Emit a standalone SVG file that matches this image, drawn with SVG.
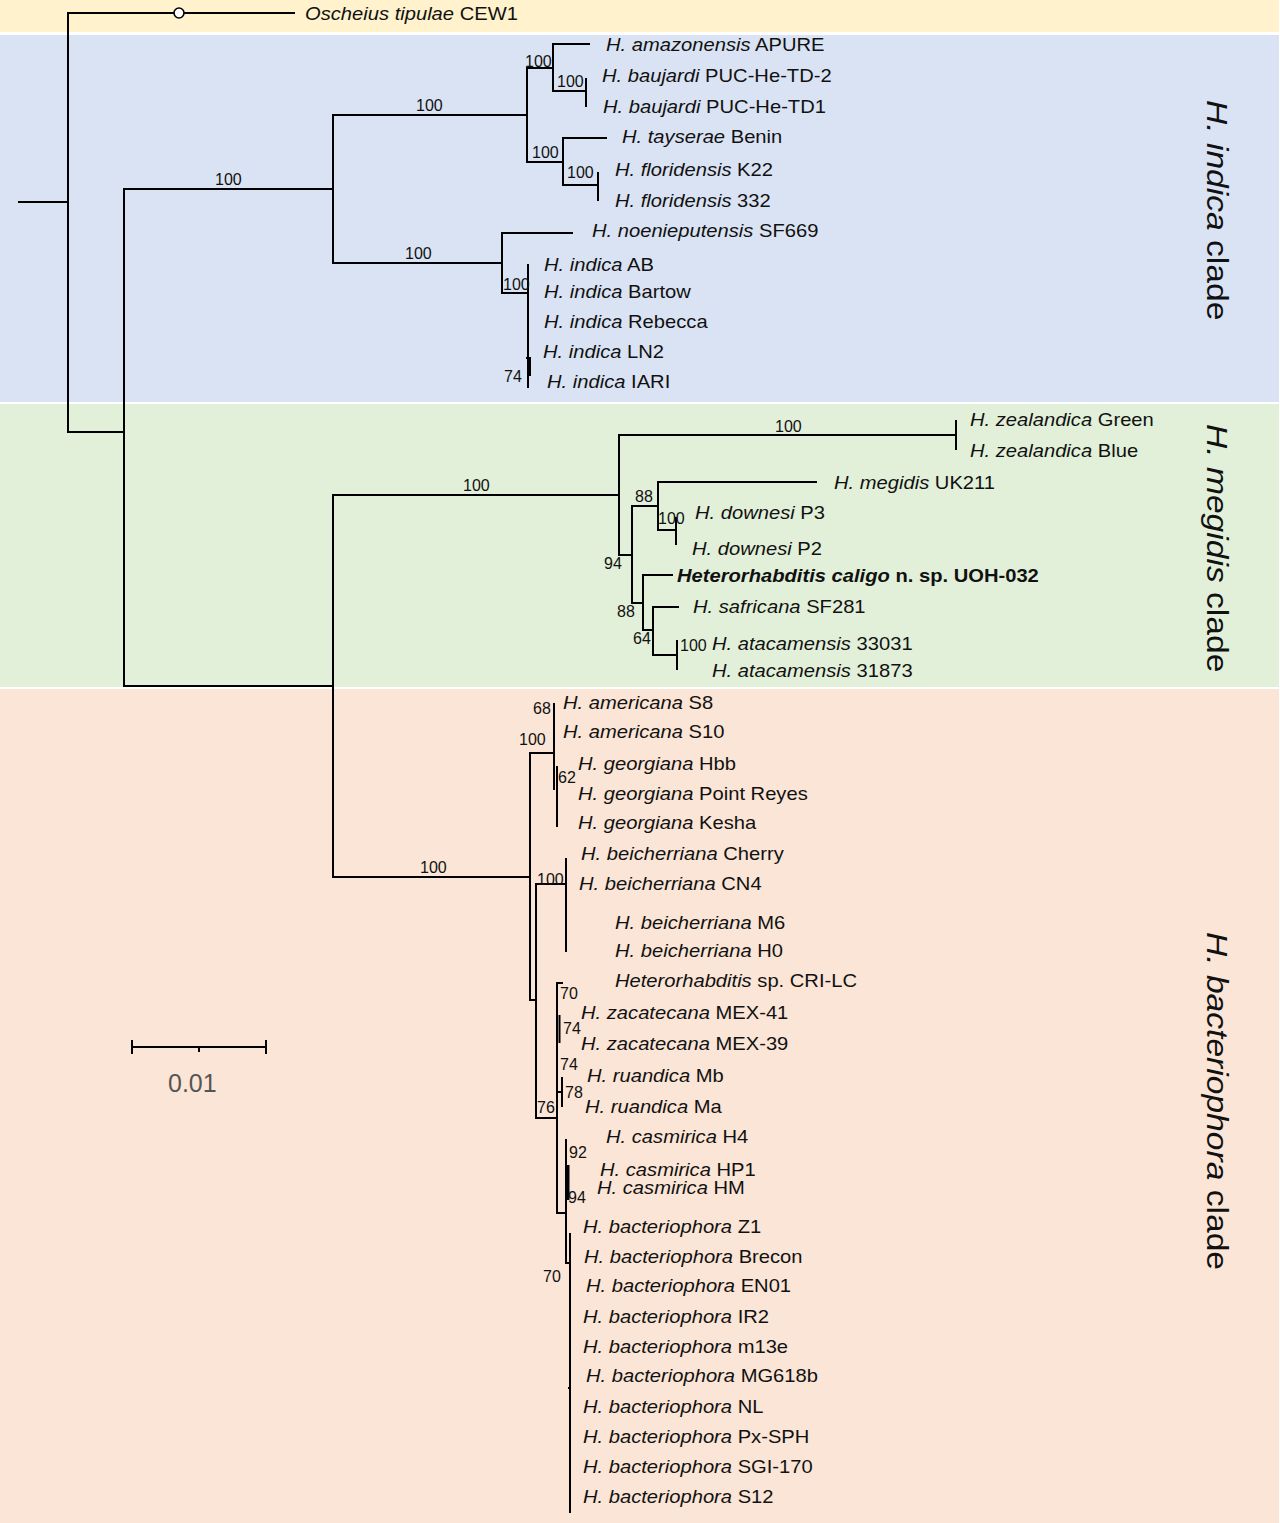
<svg xmlns="http://www.w3.org/2000/svg" width="1280" height="1523" viewBox="0 0 1280 1523">
<style>
text{font-family:"Liberation Sans",Arial,sans-serif;fill:#111}
.t{font-size:18px}
.i{font-style:italic}
.b{font-size:16px}
.c{font-size:30px}
.br{fill:none;stroke:#000;stroke-width:2}
</style>
<rect width="1280" height="1523" fill="#fff"/>
<g id="bands">
<rect x="0" y="0" width="1279" height="32" fill="#FFF2CC"/>
<rect x="0" y="35" width="1279" height="367" fill="#DAE3F3"/>
<rect x="0" y="404" width="1279" height="283" fill="#E2F0D9"/>
<rect x="0" y="689" width="1279" height="834" fill="#FBE5D6"/>
</g>
<g id="connectors" class="br">
<path d="M18 202 H68"/>
<path d="M295 13 H68 V432 H124"/>
<path d="M333 189 H124 V686 H333"/>
<path d="M527 115 H333 V263 H502"/>
<path d="M553 68 H527 V162 H563"/>
<path d="M590 44 H553 V91 H586"/>
<path d="M586 78 V107"/>
<path d="M607 138 H563 V185 H598"/>
<path d="M598 172 V201"/>
<path d="M573 233 H502 V293 H528"/>
<path d="M528 264 V388"/>
<path d="M526 358 H530 V376"/>
<path d="M619 495 H333 V877 H530"/>
<path d="M956 435 H619 V555 H632"/>
<path d="M956 420 V450"/>
<path d="M658 506 H632 V603 H643"/>
<path d="M817 482 H658 V530 H676"/>
<path d="M676 517 V545"/>
<path d="M673 575 H643 V630 H653"/>
<path d="M679 607 H653 V655 H677"/>
<path d="M677 640 V670"/>
<path d="M554 753 H530 V1000 H536"/>
<path d="M554 703 V790"/>
<path d="M557 766 V827"/>
<path d="M566 884 H536 V1118 H557"/>
<path d="M566 858 V952"/>
<path d="M563 983 H557 V1213 H566"/>
<path d="M559.5 1015 V1043"/>
<path d="M557 1092 H562 M562 1077 V1107"/>
<path d="M566 1139 V1263 H570"/>
<path d="M568 1165 V1200" stroke-width="3"/>
<path d="M570 1233 V1513"/>
<path d="M568 1388 H570"/>
<circle cx="179" cy="13" r="5" fill="#fff" stroke-width="1.6"/>
</g>
<g id="scalebar">
<path class="br" d="M132 1047 H266 M132 1040 V1054 M266 1040 V1054 M199 1047 V1052"/>
<text x="168" y="1092" style="font-size:25px;fill:#555">0.01</text>
</g>
<g id="support" class="b">
<text x="525" y="67">100</text>
<text x="557" y="87">100</text>
<text x="532" y="158">100</text>
<text x="567" y="178">100</text>
<text x="416" y="111">100</text>
<text x="215" y="185">100</text>
<text x="405" y="259">100</text>
<text x="503" y="290">100</text>
<text x="504" y="382">74</text>
<text x="463" y="491">100</text>
<text x="775" y="432">100</text>
<text x="635" y="502">88</text>
<text x="658" y="524">100</text>
<text x="604" y="569">94</text>
<text x="617" y="617">88</text>
<text x="633" y="644">64</text>
<text x="680" y="651">100</text>
<text x="420" y="873">100</text>
<text x="533" y="714">68</text>
<text x="519" y="745">100</text>
<text x="558" y="783">62</text>
<text x="537" y="885">100</text>
<text x="560" y="999">70</text>
<text x="563" y="1034">74</text>
<text x="560" y="1070">74</text>
<text x="565" y="1098">78</text>
<text x="537" y="1113">76</text>
<text x="569" y="1158">92</text>
<text x="568" y="1203">94</text>
<text x="543" y="1282">70</text>
</g>
<g id="tips" class="t">
<g id="n-tipulae"><text transform="translate(305,19.5) scale(1.12,1)"><tspan class="i">Oscheius tipulae</tspan> CEW1</text></g>
<g id="n-amazonensis"><text transform="translate(606,51) scale(1.12,1)"><tspan class="i">H. amazonensis</tspan> APURE</text></g>
<g id="n-baujardi2"><text transform="translate(602,82) scale(1.12,1)"><tspan class="i">H. baujardi</tspan> PUC-He-TD-2</text></g>
<g id="n-baujardi1"><text transform="translate(603,113) scale(1.12,1)"><tspan class="i">H. baujardi</tspan> PUC-He-TD1</text></g>
<g id="n-tayserae"><text transform="translate(622,143) scale(1.12,1)"><tspan class="i">H. tayserae</tspan> Benin</text></g>
<g id="n-floridensisK22"><text transform="translate(615,176) scale(1.12,1)"><tspan class="i">H. floridensis</tspan> K22</text></g>
<g id="n-floridensis332"><text transform="translate(615,207) scale(1.12,1)"><tspan class="i">H. floridensis</tspan> 332</text></g>
<g id="n-noenieputensis"><text transform="translate(592,237) scale(1.12,1)"><tspan class="i">H. noenieputensis</tspan> SF669</text></g>
<g id="n-indicaAB"><text transform="translate(544,271) scale(1.12,1)"><tspan class="i">H. indica</tspan> AB</text></g>
<g id="n-indicaBartow"><text transform="translate(544,298) scale(1.12,1)"><tspan class="i">H. indica</tspan> Bartow</text></g>
<g id="n-indicaRebecca"><text transform="translate(544,328) scale(1.12,1)"><tspan class="i">H. indica</tspan> Rebecca</text></g>
<g id="n-indicaLN2"><text transform="translate(543,358) scale(1.12,1)"><tspan class="i">H. indica</tspan> LN2</text></g>
<g id="n-indicaIARI"><text transform="translate(547,388) scale(1.12,1)"><tspan class="i">H. indica</tspan> IARI</text></g>
<g id="n-zealandicaGreen"><text transform="translate(970,426) scale(1.12,1)"><tspan class="i">H. zealandica</tspan> Green</text></g>
<g id="n-zealandicaBlue"><text transform="translate(970,457) scale(1.12,1)"><tspan class="i">H. zealandica</tspan> Blue</text></g>
<g id="n-megidis"><text transform="translate(834,489) scale(1.12,1)"><tspan class="i">H. megidis</tspan> UK211</text></g>
<g id="n-downesiP3"><text transform="translate(695,519) scale(1.12,1)"><tspan class="i">H. downesi</tspan> P3</text></g>
<g id="n-downesiP2"><text transform="translate(692,555) scale(1.12,1)"><tspan class="i">H. downesi</tspan> P2</text></g>
<g id="n-caligo"><text transform="translate(677,582) scale(1.12,1)" font-weight="bold"><tspan class="i">Heterorhabditis caligo</tspan> n. sp. UOH-032</text></g>
<g id="n-safricana"><text transform="translate(693,613) scale(1.12,1)"><tspan class="i">H. safricana</tspan> SF281</text></g>
<g id="n-atacamensis33031"><text transform="translate(712,650) scale(1.12,1)"><tspan class="i">H. atacamensis</tspan> 33031</text></g>
<g id="n-atacamensis31873"><text transform="translate(712,677) scale(1.12,1)"><tspan class="i">H. atacamensis</tspan> 31873</text></g>
<g id="n-americanaS8"><text transform="translate(563,709) scale(1.12,1)"><tspan class="i">H. americana</tspan> S8</text></g>
<g id="n-americanaS10"><text transform="translate(563,738) scale(1.12,1)"><tspan class="i">H. americana</tspan> S10</text></g>
<g id="n-georgianaHbb"><text transform="translate(578,770) scale(1.12,1)"><tspan class="i">H. georgiana</tspan> Hbb</text></g>
<g id="n-georgianaPR"><text transform="translate(578,800) scale(1.12,1)"><tspan class="i">H. georgiana</tspan> Point Reyes</text></g>
<g id="n-georgianaKesha"><text transform="translate(578,829) scale(1.12,1)"><tspan class="i">H. georgiana</tspan> Kesha</text></g>
<g id="n-beicherrianaCherry"><text transform="translate(581,860) scale(1.12,1)"><tspan class="i">H. beicherriana</tspan> Cherry</text></g>
<g id="n-beicherrianaCN4"><text transform="translate(579,890) scale(1.12,1)"><tspan class="i">H. beicherriana</tspan> CN4</text></g>
<g id="n-beicherrianaM6"><text transform="translate(615,929) scale(1.12,1)"><tspan class="i">H. beicherriana</tspan> M6</text></g>
<g id="n-beicherrianaH0"><text transform="translate(615,957) scale(1.12,1)"><tspan class="i">H. beicherriana</tspan> H0</text></g>
<g id="n-CRILC"><text transform="translate(615,987) scale(1.12,1)"><tspan class="i">Heterorhabditis</tspan> sp. CRI-LC</text></g>
<g id="n-zacatecana41"><text transform="translate(581,1019) scale(1.12,1)"><tspan class="i">H. zacatecana</tspan> MEX-41</text></g>
<g id="n-zacatecana39"><text transform="translate(581,1050) scale(1.12,1)"><tspan class="i">H. zacatecana</tspan> MEX-39</text></g>
<g id="n-ruandicaMb"><text transform="translate(587,1082) scale(1.12,1)"><tspan class="i">H. ruandica</tspan> Mb</text></g>
<g id="n-ruandicaMa"><text transform="translate(585,1113) scale(1.12,1)"><tspan class="i">H. ruandica</tspan> Ma</text></g>
<g id="n-casmiricaH4"><text transform="translate(606,1143) scale(1.12,1)"><tspan class="i">H. casmirica</tspan> H4</text></g>
<g id="n-casmiricaHP1"><text transform="translate(600,1176) scale(1.12,1)"><tspan class="i">H. casmirica</tspan> HP1</text></g>
<g id="n-casmiricaHM"><text transform="translate(597,1194) scale(1.12,1)"><tspan class="i">H. casmirica</tspan> HM</text></g>
<g id="n-bactZ1"><text transform="translate(583,1233) scale(1.12,1)"><tspan class="i">H. bacteriophora</tspan> Z1</text></g>
<g id="n-bactBrecon"><text transform="translate(584,1263) scale(1.12,1)"><tspan class="i">H. bacteriophora</tspan> Brecon</text></g>
<g id="n-bactEN01"><text transform="translate(586,1292) scale(1.12,1)"><tspan class="i">H. bacteriophora</tspan> EN01</text></g>
<g id="n-bactIR2"><text transform="translate(583,1323) scale(1.12,1)"><tspan class="i">H. bacteriophora</tspan> IR2</text></g>
<g id="n-bactm13e"><text transform="translate(583,1353) scale(1.12,1)"><tspan class="i">H. bacteriophora</tspan> m13e</text></g>
<g id="n-bactMG618b"><text transform="translate(586,1382) scale(1.12,1)"><tspan class="i">H. bacteriophora</tspan> MG618b</text></g>
<g id="n-bactNL"><text transform="translate(583,1413) scale(1.12,1)"><tspan class="i">H. bacteriophora</tspan> NL</text></g>
<g id="n-bactPxSPH"><text transform="translate(583,1443) scale(1.12,1)"><tspan class="i">H. bacteriophora</tspan> Px-SPH</text></g>
<g id="n-bactSGI170"><text transform="translate(583,1473) scale(1.12,1)"><tspan class="i">H. bacteriophora</tspan> SGI-170</text></g>
<g id="n-bactS12"><text transform="translate(583,1503) scale(1.12,1)"><tspan class="i">H. bacteriophora</tspan> S12</text></g>
</g>
<g id="clades" class="c">
<g id="clade-indica"><text transform="translate(1207,100) rotate(90) scale(1.12,1)"><tspan class="i">H. indica</tspan> clade</text></g>
<g id="clade-megidis"><text transform="translate(1207,424) rotate(90) scale(1.12,1)"><tspan class="i">H. megidis</tspan> clade</text></g>
<g id="clade-bacteriophora"><text transform="translate(1207,932) rotate(90) scale(1.12,1)"><tspan class="i">H. bacteriophora</tspan> clade</text></g>
</g>
</svg>
